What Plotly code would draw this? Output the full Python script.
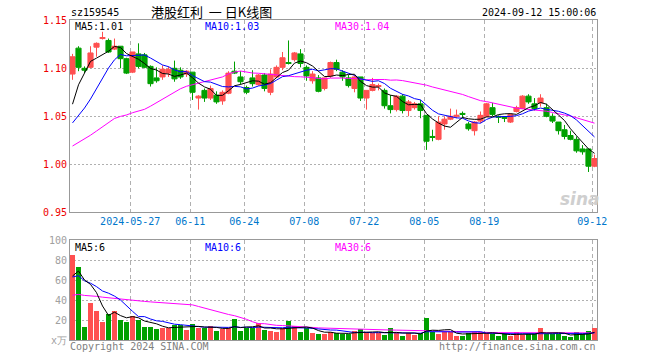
import plotly.graph_objects as go

# ---------------- data ----------------
tick_index = [10, 20, 29, 39, 49, 59, 69, 87]
tick_labels = ["2024-05-27", "06-11", "06-24", "07-08", "07-22", "08-05", "08-19", "09-12"]

open_ = [1.094, 1.121, 1.100, 1.101, 1.122, 1.131, 1.129, 1.120, 1.123, 1.110,
         1.096, 1.115, 1.114, 1.102, 1.090, 1.091, 1.095, 1.100, 1.098, 1.094,
         1.096, 1.069, 1.077, 1.069, 1.072, 1.066, 1.074, 1.097, 1.091, 1.080,
         1.090, 1.083, 1.093, 1.075, 1.091, 1.101, 1.106, 1.109, 1.115, 1.101,
         1.087, 1.090, 1.079, 1.092, 1.106, 1.096, 1.090, 1.079, 1.091, 1.069,
         1.077, 1.081, 1.077, 1.061, 1.057, 1.071, 1.056, 1.059, 1.063, 1.051,
         1.029, 1.026, 1.042, 1.047, 1.050, 1.053, 1.042, 1.035, 1.045, 1.050,
         1.059, 1.050, 1.049, 1.044, 1.055, 1.058, 1.071, 1.063, 1.064, 1.059,
         1.050, 1.044, 1.036, 1.030, 1.026, 1.016, 1.016, 0.998]
high = [1.115, 1.123, 1.102, 1.123, 1.127, 1.138, 1.131, 1.131, 1.123, 1.111,
        1.117, 1.126, 1.116, 1.103, 1.101, 1.103, 1.102, 1.108, 1.101, 1.098,
        1.096, 1.072, 1.079, 1.082, 1.076, 1.077, 1.097, 1.107, 1.097, 1.082,
        1.098, 1.094, 1.095, 1.099, 1.103, 1.117, 1.129, 1.117, 1.120, 1.103,
        1.097, 1.093, 1.090, 1.107, 1.109, 1.098, 1.093, 1.093, 1.091, 1.077,
        1.090, 1.084, 1.079, 1.072, 1.072, 1.073, 1.067, 1.065, 1.067, 1.051,
        1.036, 1.050, 1.050, 1.058, 1.057, 1.055, 1.044, 1.045, 1.055, 1.064,
        1.064, 1.051, 1.050, 1.053, 1.061, 1.072, 1.073, 1.069, 1.073, 1.063,
        1.053, 1.044, 1.041, 1.035, 1.029, 1.020, 1.016, 1.010]
low = [1.088, 1.097, 1.095, 1.100, 1.112, 1.130, 1.116, 1.119, 1.100, 1.094,
       1.095, 1.100, 1.100, 1.081, 1.085, 1.088, 1.091, 1.086, 1.089, 1.091,
       1.067, 1.057, 1.065, 1.067, 1.063, 1.062, 1.073, 1.094, 1.083, 1.073,
       1.081, 1.082, 1.076, 1.072, 1.090, 1.098, 1.104, 1.107, 1.101, 1.087,
       1.084, 1.075, 1.077, 1.090, 1.097, 1.087, 1.080, 1.075, 1.066, 1.057,
       1.076, 1.077, 1.058, 1.053, 1.055, 1.053, 1.050, 1.057, 1.048, 1.015,
       1.024, 1.025, 1.036, 1.046, 1.048, 1.048, 1.035, 1.030, 1.043, 1.049,
       1.050, 1.043, 1.044, 1.043, 1.054, 1.058, 1.063, 1.056, 1.060, 1.049,
       1.043, 1.031, 1.026, 1.025, 1.012, 1.010, 0.992, 0.997]
close = [1.112, 1.101, 1.098, 1.116, 1.126, 1.132, 1.117, 1.123, 1.110, 1.095,
         1.117, 1.102, 1.101, 1.084, 1.087, 1.099, 1.099, 1.089, 1.091, 1.097,
         1.075, 1.071, 1.069, 1.079, 1.065, 1.075, 1.095, 1.095, 1.086, 1.075,
         1.084, 1.093, 1.079, 1.094, 1.101, 1.111, 1.105, 1.116, 1.105, 1.092,
         1.094, 1.076, 1.090, 1.106, 1.099, 1.091, 1.082, 1.091, 1.069, 1.077,
         1.083, 1.082, 1.061, 1.057, 1.071, 1.056, 1.065, 1.063, 1.056, 1.024,
         1.028, 1.044, 1.047, 1.050, 1.051, 1.052, 1.037, 1.044, 1.051, 1.063,
         1.052, 1.049, 1.048, 1.052, 1.059, 1.071, 1.065, 1.058, 1.069, 1.050,
         1.045, 1.035, 1.029, 1.026, 1.014, 1.013, 0.998, 1.006]
volume = [85, 73, 13, 37, 29, 18, 26, 29, 20, 18,
          24, 20, 13, 13, 11, 12, 12, 15, 15, 10,
          16, 12, 12, 14, 9, 11, 12, 21, 9, 12,
          12, 17, 10, 9, 8, 12, 19, 14, 8, 12,
          7, 6, 6, 8, 7, 6, 6, 9, 11, 7,
          7, 7, 5, 12, 7, 4, 7, 5, 7, 22,
          8, 6, 8, 8, 4, 4, 7, 8, 8, 7,
          6, 4, 6, 4, 8, 5, 6, 6, 12, 6,
          6, 6, 4, 3, 8, 6, 9, 12]

# sessions before the visible window (inferred from where the MA lines start)
prior_close = [0.990, 0.995, 0.992, 0.996, 0.991, 0.994, 0.993,
               1.046, 1.050, 1.047, 1.049, 1.048,
               0.986, 0.982, 0.985, 0.983, 0.984, 0.985,
               1.020, 1.024, 1.021, 1.023, 1.022, 1.022,
               1.030, 1.000, 1.037, 1.055, 1.109]
prior_volume = [48, 44, 46, 47, 43, 46, 44, 45, 47, 43,
                27, 25, 28, 24, 26, 27, 25, 26, 28, 24,
                60, 64, 61, 63, 62, 48, 58, 59, 70]

# ---------------- helpers ----------------
W, H = 660, 360
PX_L, PX_R = 70, 597
P_TOP, P_BOT = 20.3, 212.3
V_TOP, V_BOT = 240, 340

def px(x):
    return x / W

def py(y):
    return 1 - y / H

def moving_avg(prior, vals, n):
    full = prior + vals
    off = len(prior)
    out = []
    for i in range(len(vals)):
        seg = full[off + i - n + 1: off + i + 1]
        out.append(sum(seg) / n)
    return out

n = len(close)
xs = list(range(n))
RED = "#ff5050"
GREEN = "#00a000"
MONO = "DejaVu Sans Mono"

fig = go.Figure()

fig.add_trace(go.Candlestick(
    x=xs, open=open_, high=high, low=low, close=close,
    increasing=dict(line=dict(color=RED, width=1), fillcolor=RED),
    decreasing=dict(line=dict(color=GREEN, width=1), fillcolor=GREEN),
    whiskerwidth=0, hoverinfo="skip", xaxis="x", yaxis="y"))

for period, col in [(30, "#ff00ff"), (10, "#0000ff"), (5, "#000000")]:
    fig.add_trace(go.Scatter(x=xs, y=moving_avg(prior_close, close, period), mode="lines",
                             line=dict(color=col, width=1), hoverinfo="skip",
                             xaxis="x", yaxis="y"))

bar_colors = [RED if c >= o else GREEN for o, c in zip(open_, close)]
fig.add_trace(go.Bar(x=xs, y=volume, marker=dict(color=bar_colors, line=dict(width=0)),
                     width=0.84, hoverinfo="skip", xaxis="x2", yaxis="y2"))

for period, col in [(30, "#ff00ff"), (10, "#0000ff"), (5, "#000000")]:
    fig.add_trace(go.Scatter(x=xs, y=moving_avg(prior_volume, volume, period), mode="lines",
                             line=dict(color=col, width=1), hoverinfo="skip",
                             xaxis="x2", yaxis="y2"))

xrange = [-0.417, n - 1 + 0.417]
grid_pos = [t - 0.38 for t in tick_index]
common_x = dict(range=xrange, domain=[px(PX_L), px(PX_R)], showgrid=True,
                gridcolor="#b0b0b0", griddash="4px,3px", gridwidth=1,
                tickvals=grid_pos, zeroline=False, showline=True, mirror=True,
                linecolor="#999999", linewidth=1, ticks="", fixedrange=True,
                automargin=False)

fig.update_layout(
    template="none",
    width=W, height=H, margin=dict(l=0, r=0, t=0, b=0, pad=0, autoexpand=False),
    paper_bgcolor="white", plot_bgcolor="white", showlegend=False,
    boxgap=0.1, boxgroupgap=0.05, bargap=0,
    xaxis=dict(**common_x, anchor="y", ticktext=tick_labels,
               tickfont=dict(family=MONO, size=10, color="#0077cc"),
               rangeslider=dict(visible=False)),
    yaxis=dict(domain=[py(P_BOT), py(P_TOP)], range=[0.95, 1.15], anchor="x",
               tickvals=[0.95, 1.00, 1.05, 1.10, 1.15],
               ticktext=["0.95", "1.00", "1.05", "1.10", "1.15"],
               tickfont=dict(family=MONO, size=10, color="#ee0000"),
               showgrid=True, gridcolor="#b0b0b0", griddash="2px,2px",
               zeroline=False, showline=True, mirror=True, linecolor="#999999",
               linewidth=1, ticks="", fixedrange=True, automargin=False),
    xaxis2=dict(**common_x, anchor="y2", showticklabels=False),
    yaxis2=dict(domain=[py(V_BOT), py(V_TOP)], range=[0, 100], anchor="x2",
                tickvals=[0, 20, 40, 60, 80, 100],
                ticktext=["x万", "20", "40", "60", "80", "100"],
                tickfont=dict(family=MONO, size=10, color="#a0a0a0"),
                showgrid=True, gridcolor="#b0b0b0", griddash="2px,2px",
                zeroline=False, showline=True, mirror=True, linecolor="#999999",
                linewidth=1, ticks="", fixedrange=True, automargin=False),
)

def label(text, x, y, color="#000000", anchor="left", size=10, family=MONO, **fontkw):
    fig.add_annotation(text=text, x=px(x), y=py(y), xref="paper", yref="paper",
                       xanchor=anchor, yanchor="middle", showarrow=False, borderpad=0,
                       font=dict(family=family, size=size, color=color, **fontkw))

label("sz159545", 70, 13)
label("港股红利\u00a0\u00a0一\u00a0日K线图", 150, 12, family="Noto Sans CJK SC", size=13)
label("2024-09-12 15:00:06", 597, 13, anchor="right")
label("MA5:1.01", 74, 27)
label("MA10:1.03", 204, 27, color="#0000ff")
label("MA30:1.04", 334, 27, color="#ff00ff")
label("MA5:6", 74, 247)
label("MA10:6", 204, 247, color="#0000ff")
label("MA30:6", 334, 247, color="#ff00ff")
label("Copyright 2024 SINA.COM", 69, 346, color="#808080")
label("http://finance.sina.com.cn", 597, 346, color="#808080", anchor="right")
label("sina", 580, 199, color="#cfcfcf", anchor="center", size=17,
      family="DejaVu Sans", style="italic", weight="bold")

fig.write_html("out.html", config={"displayModeBar": False, "staticPlot": True},
               post_script="document.body.style.margin='0';")
